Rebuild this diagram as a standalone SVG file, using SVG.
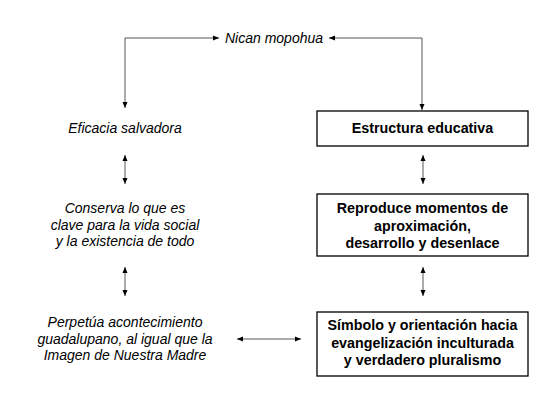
<svg xmlns="http://www.w3.org/2000/svg" width="550" height="413" viewBox="0 0 550 413">
<style>
.it{font-family:"Liberation Sans",Arial,sans-serif;font-size:14px;font-style:italic;fill:#000;text-anchor:middle}
.bd{font-family:"Liberation Sans",Arial,sans-serif;font-size:14.3px;font-weight:bold;fill:#000;text-anchor:middle}
.box{fill:#fff;stroke:#000;stroke-width:1.3}
.ln{fill:none;stroke:#444;stroke-width:0.9}
</style>
<defs>
<marker id="ah" viewBox="0 0 6 6" refX="6" refY="3" markerWidth="6" markerHeight="6" markerUnits="userSpaceOnUse" orient="auto-start-reverse">
<path d="M0,0.5 L6,3 L0,5.5 Z" fill="#000"/>
</marker>
</defs>
<rect width="550" height="413" fill="#fff"/>
<g id="connectors">
<path class="ln" d="M219,38 H125 V108" marker-start="url(#ah)" marker-end="url(#ah)"/>
<path class="ln" d="M329,38 H422 V110" marker-start="url(#ah)" marker-end="url(#ah)"/>
<path class="ln" d="M125,155 V184" marker-start="url(#ah)" marker-end="url(#ah)"/>
<path class="ln" d="M423,155 V184" marker-start="url(#ah)" marker-end="url(#ah)"/>
<path class="ln" d="M125,267 V296" marker-start="url(#ah)" marker-end="url(#ah)"/>
<path class="ln" d="M423,267 V296" marker-start="url(#ah)" marker-end="url(#ah)"/>
<path class="ln" d="M237,339 H301" marker-start="url(#ah)" marker-end="url(#ah)"/>
</g>
<g id="nican"><text class="it" x="274" y="43">Nican mopohua</text></g>
<g id="eficacia"><text class="it" x="125" y="133">Eficacia salvadora</text></g>
<g id="conserva">
<text class="it" x="125" y="213">Conserva lo que es</text>
<text class="it" x="125" y="229.5">clave para la vida social</text>
<text class="it" x="125" y="246">y la existencia de todo</text>
</g>
<g id="perpetua">
<text class="it" x="125" y="327">Perpetúa acontecimiento</text>
<text class="it" x="125" y="343.5">guadalupano, al igual que la</text>
<text class="it" x="125" y="360">Imagen de Nuestra Madre</text>
</g>
<g id="estructura">
<rect class="box" x="317" y="111" width="211" height="35"/>
<text class="bd" x="422.5" y="133">Estructura educativa</text>
</g>
<g id="reproduce">
<rect class="box" x="317" y="194" width="211" height="62"/>
<text class="bd" x="422.5" y="213">Reproduce momentos de</text>
<text class="bd" x="422.5" y="230.5">aproximación,</text>
<text class="bd" x="422.5" y="248">desarrollo y desenlace</text>
</g>
<g id="simbolo">
<rect class="box" x="317" y="312" width="211" height="64"/>
<text class="bd" x="422.5" y="330">Símbolo y orientación hacia</text>
<text class="bd" x="422.5" y="347.5">evangelización inculturada</text>
<text class="bd" x="422.5" y="365">y verdadero pluralismo</text>
</g>
</svg>
